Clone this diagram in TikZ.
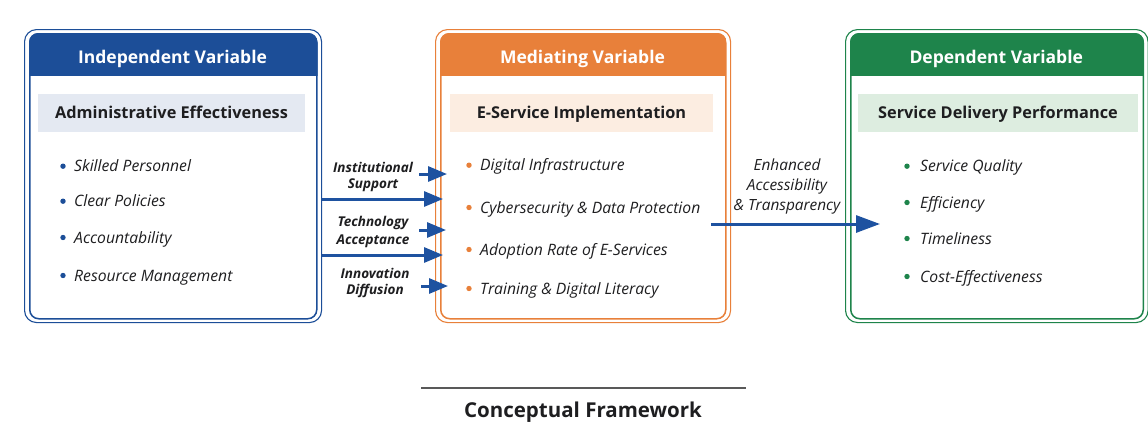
\documentclass[tikz,border=0pt]{standalone}
\usepackage{fontspec}
\setmainfont{Open Sans}
\usetikzlibrary{arrows.meta,calc}

\definecolor{ivblue}{RGB}{28,78,152}
\definecolor{ivlight}{RGB}{228,233,242}
\definecolor{mvorange}{RGB}{232,128,58}
\definecolor{mvlight}{RGB}{252,237,225}
\definecolor{dvgreen}{RGB}{30,132,75}
\definecolor{dvlight}{RGB}{221,237,224}
\definecolor{arrowblue}{RGB}{30,82,160}
\definecolor{inktext}{RGB}{30,30,32}

% One variable panel: name, left x, right x, colour, band colour,
% header text, subtitle text, band left x, band right x
\newcommand\varpanel[9]{%
  \node[outerframe, draw=#4, minimum width={#3-#2}] (#1out) at (#2,29) {};
  \node[innerframe, draw=#4, minimum width={#3-#2-10}] (#1in) at (#2+5,33) {};
  \begin{scope}
    \clip[rounded corners=9pt] (#1in.north west) rectangle (#1in.south east);
    \fill[#4] (#1in.north west) rectangle (#1in.east |- 0,76);
  \end{scope}
  \node[headertext] (#1head) at ({(#2+#3)/2},63) {#6};
  \fill[#5] (#8,94) rectangle (#9,132);
  \node[subtext] (#1sub) at ({(#8+#9)/2},118) {#7};
}

\begin{document}
\begin{tikzpicture}[x=1pt,y=-1pt,
  outerframe/.style={rounded corners=12pt, line width=1.1pt, anchor=north west,
    inner sep=0pt, minimum height=293pt},
  innerframe/.style={rounded corners=9pt, line width=1.5pt, anchor=north west,
    inner sep=0pt, minimum height=285pt},
  headertext/.style={anchor=base, text=white, font=\fontsize{17.5}{20}\selectfont\bfseries, inner sep=0pt},
  subtext/.style={anchor=base, text=inktext, font=\fontsize{16.3}{19}\selectfont\bfseries, inner sep=0pt},
  item/.style={anchor=base west, text=inktext, font=\fontsize{15.7}{19}\selectfont\itshape, inner sep=0pt},
  linklabel/.style={anchor=base, text=inktext, font=\fontsize{13.5}{16}\selectfont\bfseries\itshape, inner sep=0pt},
  flowlabel/.style={anchor=base, text=inktext, font=\fontsize{15.4}{18}\selectfont\itshape, inner sep=0pt},
  arr/.style={draw=arrowblue, line width=3pt, -{Triangle[length=19pt,width=15pt]}},
  bigarr/.style={draw=arrowblue, line width=3pt, -{Triangle[length=24pt,width=17pt]}},
]
\useasboundingbox (0,0) rectangle (1148,423);
\fill[white] (0,0) rectangle (1148,423);

% Panels
\varpanel{iv}{24}{321}{ivblue}{ivlight}{Independent Variable}{Administrative Effectiveness}{38}{305}
\varpanel{mv}{435}{730}{mvorange}{mvlight}{Mediating Variable}{E-Service Implementation}{450}{713}
\varpanel{dv}{845}{1147.5}{dvgreen}{dvlight}{Dependent Variable}{Service Delivery Performance}{858}{1138}

% Panel items
\foreach \t/\yb [count=\i] in {Skilled Personnel/171.7, Clear Policies/206.7,
    Accountability/243, Resource Management/281} {
  \fill[ivblue] (63,\yb-5.5) circle (2.7);
  \node[item] (iv-\i) at (74,\yb) {\t};
}
\foreach \t/\yb [count=\i] in {Digital Infrastructure/170.7,
    Cybersecurity \& Data Protection/213, Adoption Rate of E-Services/255,
    Training \& Digital Literacy/294} {
  \fill[mvorange] (469,\yb-5.5) circle (2.7);
  \node[item] (mv-\i) at (480,\yb) {\t};
}
\foreach \t/\yb [count=\i] in {Service Quality/171.7, Efficiency/208,
    Timeliness/244, Cost-Effectiveness/282} {
  \fill[dvgreen] (907,\yb-5.5) circle (2.7);
  \node[item] (dv-\i) at (920,\yb) {\t};
}

% Link labels between the first two panels
\node[linklabel] (la1) at (373,172.7) {Institutional};
\node[linklabel] (lb1) at (373,188) {Support};
\node[linklabel] (la2) at (373,226.7) {Technology};
\node[linklabel] (lb2) at (373,244) {Acceptance};
\node[linklabel] (la3) at (375,278) {Innovation};
\node[linklabel] (lb3) at (375,294) {Diffusion};

% Short arrows from the labels, long arrows from panel to panel
\draw[arr] (mvin.west |- 0,174) ++(-21pt,0) -- ([xshift=7pt]mvin.west |- 0,174);
\draw[arr] (ivout.east |- 0,199) -- ([xshift=3pt]mvin.west |- 0,199);
\draw[arr] (mvin.west |- 0,230) ++(-21pt,0) -- ([xshift=6pt]mvin.west |- 0,230);
\draw[arr] (ivout.east |- 0,255) -- ([xshift=3pt]mvin.west |- 0,255);
\draw[arr] (mvin.west |- 0,286) ++(-19pt,0) -- ([xshift=8pt]mvin.west |- 0,286);

% Mediator to outcome
\node[flowlabel] (fl1) at (787,170) {Enhanced};
\node[flowlabel] (fl2) at (787,190) {Accessibility};
\node[flowlabel] (fl3) at (787,210) {\& Transparency};
\draw[bigarr] ([xshift=-20pt]mvout.east |- 0,224) -- ([xshift=30pt]dvin.west |- 0,224);

% Caption
\coordinate (capl) at (421,388);
\coordinate (capr) at (746,388);
\draw[line width=1.3pt, draw=black!65] (capl) -- (capr);
\node[anchor=base, text=inktext, font=\fontsize{20.5}{24}\selectfont\bfseries, inner sep=0pt]
  (caption) at (583,417) {Conceptual Framework};
\end{tikzpicture}
\end{document}
